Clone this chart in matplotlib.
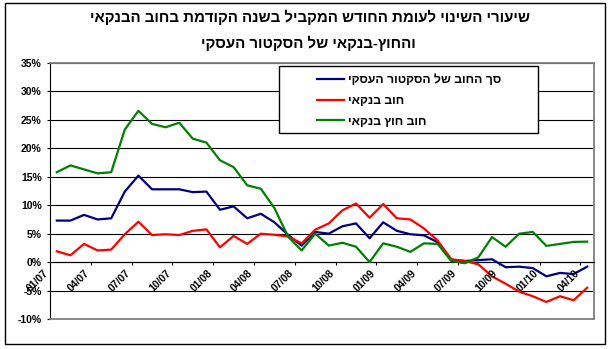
import matplotlib
matplotlib.use("Agg")
import matplotlib.pyplot as plt
from matplotlib.patches import Rectangle
from matplotlib.lines import Line2D

plt.rcParams['font.family'] = ['Liberation Sans', 'DejaVu Sans']

# ---------------- data ----------------
months = ["01/07", "02/07", "03/07", "04/07", "05/07", "06/07", "07/07", "08/07", "09/07", "10/07",
          "11/07", "12/07", "01/08", "02/08", "03/08", "04/08", "05/08", "06/08", "07/08", "08/08",
          "09/08", "10/08", "11/08", "12/08", "01/09", "02/09", "03/09", "04/09", "05/09", "06/09",
          "07/09", "08/09", "09/09", "10/09", "11/09", "12/09", "01/10", "02/10", "03/10", "04/10"]

tick_labels = ["01/07", "04/07", "07/07", "10/07", "01/08", "04/08", "07/08",
               "10/08", "01/09", "04/09", "07/09", "10/09", "01/10", "04/10"]

total_debt = [7.3, 7.3, 8.3, 7.5, 7.7, 12.4, 15.2, 12.8, 12.8, 12.8,
              12.3, 12.4, 9.2, 9.8, 7.7, 8.5, 7.0, 4.8, 2.9, 5.3,
              5.0, 6.3, 6.8, 4.2, 7.0, 5.5, 4.9, 4.7, 3.5, 0.4,
              0.2, 0.35, 0.5, -0.9, -0.8, -1.05, -2.5, -1.9, -2.1, -0.8]

bank_debt = [1.9, 1.2, 3.2, 2.05, 2.2, 4.9, 7.1, 4.75, 4.9, 4.75,
             5.5, 5.75, 2.6, 4.6, 3.2, 5.0, 4.8, 4.5, 3.3, 5.7,
             6.8, 9.1, 10.3, 7.8, 10.2, 7.7, 7.5, 5.9, 3.8, 0.5,
             0.2, -0.4, -2.5, -3.8, -5.2, -6.0, -7.0, -6.0, -6.7, -4.5]

nonbank_debt = [15.8, 17.0, 16.3, 15.6, 15.8, 23.3, 26.6, 24.3, 23.7, 24.5,
                21.7, 21.0, 17.9, 16.7, 13.5, 12.9, 9.5, 4.5, 2.05, 5.0,
                2.9, 3.4, 2.7, 0.0, 3.3, 2.7, 1.8, 3.3, 3.2, 0.2,
                -0.2, 0.85, 4.4, 2.7, 5.0, 5.3, 2.85, 3.2, 3.55, 3.6]

series_names = ["סך החוב של הסקטור העסקי", "חוב בנקאי", "חוב חוץ בנקאי"]
title_lines = ["שיעורי השינוי לעומת החודש המקביל בשנה הקודמת בחוב הבנקאי",
               "והחוץ-בנקאי של הסקטור העסקי"]

y_ticks = [-10, -5, 0, 5, 10, 15, 20, 25, 30, 35]


def rtl(s):
    return s[::-1]


# ---------------- figure ----------------
W, H = 611, 349
fig = plt.figure(figsize=(W / 100, H / 100), dpi=100)
fig.patch.set_facecolor("white")


def fx(px):
    return px / W


def fy(py):
    return 1 - py / H


ax = fig.add_axes([fx(50), fy(319), fx(594) - fx(50), fy(63) - fy(319)])

x = list(range(len(months)))
colors = ["#000080", "#FF0000", "#008000"]
for vals, c in zip([total_debt, bank_debt, nonbank_debt], colors):
    ax.plot(x, vals, color=c, lw=1.6, zorder=3, solid_joinstyle="round")

ax.set_xlim(-0.5, len(months) - 0.5)
ax.set_ylim(-10, 35)

ax.set_yticks(y_ticks)
ax.set_yticklabels([f"{v}%" for v in y_ticks], fontsize=7.5, fontweight="bold")
ax.yaxis.grid(True, color="black", lw=0.8)
ax.set_axisbelow(True)
ax.tick_params(axis="y", direction="out", length=2.5, width=0.8, pad=3.5)

# x axis at zero
ax.spines["bottom"].set_position(("data", 0))
ax.spines["bottom"].set_color("black")
ax.spines["bottom"].set_linewidth(0.8)
ax.spines["left"].set_color("black")
ax.spines["left"].set_linewidth(0.8)
for s in ["top", "right"]:
    ax.spines[s].set_color("#808080")
    ax.spines[s].set_linewidth(1.3)
ax.axhline(-10, color="#808080", lw=1.3, zorder=2.6, clip_on=False)

ax.set_xticks([i - 0.5 for i in range(0, len(months), 3)])
ax.set_xticklabels([])
ax.tick_params(axis="x", direction="out", length=2.5, width=0.8)

for lab in tick_labels:
    i = months.index(lab)
    ax.annotate(lab, xy=(i, 0), xytext=(-6.9, -6.5), textcoords="offset points",
                rotation=45, rotation_mode="anchor", ha="right", va="center",
                fontsize=7.5, fontweight="bold")

# legend
box = Rectangle((fx(279), fy(133)), fx(538) - fx(279), fy(66) - fy(133),
                transform=fig.transFigure, facecolor="white", edgecolor="black",
                lw=1.0, zorder=4)
ax.add_patch(box)
box.set_clip_on(False)
handles = [Line2D([], [], color=c, lw=1.6) for c in colors]
leg = ax.legend(handles, [rtl(n) for n in series_names], loc="upper left",
                bbox_to_anchor=(fx(317), fy(74)), bbox_transform=fig.transFigure,
                frameon=False, borderpad=0, borderaxespad=0,
                handlelength=2.2, handletextpad=0.3, labelspacing=0.72,
                prop={"size": 8.8, "weight": "bold"})
leg.set_zorder(5)

# title
fig.text(fx(310), fy(17), rtl(title_lines[0]), ha="center", va="center",
         fontsize=10.8, fontweight="bold")
fig.text(fx(308), fy(43), rtl(title_lines[1]), ha="center", va="center",
         fontsize=10.8, fontweight="bold")

# outer border
fig.add_artist(Rectangle((fx(5), fy(344)), fx(605) - fx(5), fy(3) - fy(344),
                         transform=fig.transFigure, fill=False,
                         edgecolor="black", lw=1.0))

fig.savefig("out.png", dpi=100)
